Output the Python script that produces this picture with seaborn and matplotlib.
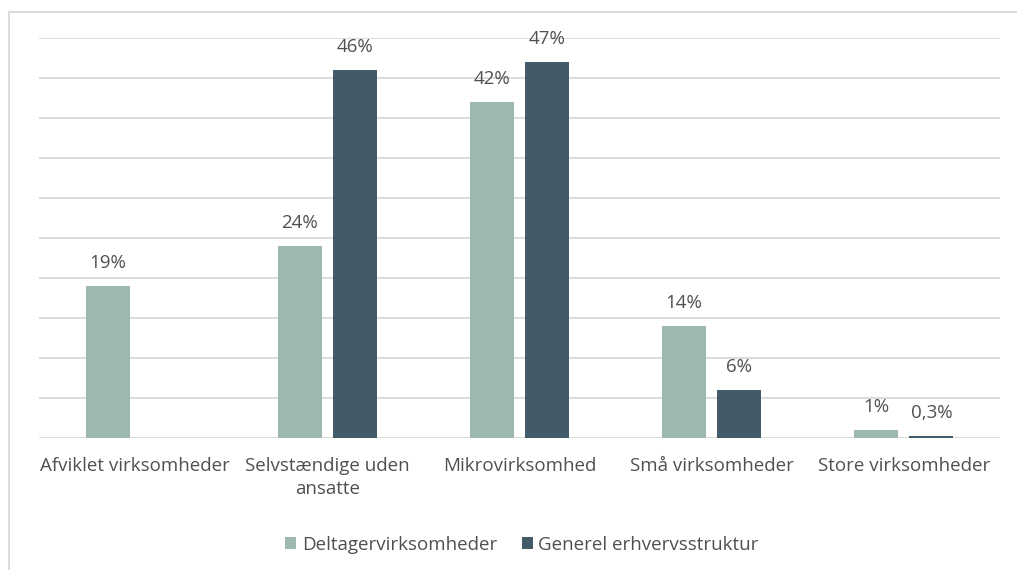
import numpy as np
import pandas as pd
import matplotlib
matplotlib.use("Agg")
import matplotlib.pyplot as plt
import seaborn as sns
from matplotlib.patches import Rectangle

categories = ["Afviklet virksomheder", "Selvstændige uden\nansatte", "Mikrovirksomhed",
              "Små virksomheder", "Store virksomheder"]
series_names = ["Deltagervirksomheder", "Generel erhvervsstruktur"]
deltager = [19, 24, 42, 14, 1]
generel = [np.nan, 46, 47, 6, 0.3]
deltager_labels = ["19%", "24%", "42%", "14%", "1%"]
generel_labels = ["", "46%", "47%", "6%", "0,3%"]

colors = ["#9DB8AF", "#435A69"]
text_color = "#505050"

sns.set_theme(style="white")
plt.rcParams['font.family'] = ['Open Sans', 'DejaVu Sans']

df = pd.DataFrame({
    "Kategori": categories * 2,
    "Serie": [series_names[0]] * 5 + [series_names[1]] * 5,
    "Værdi": deltager + generel,
})

fig = plt.figure(figsize=(10.17, 5.70), dpi=100)
ax = fig.add_axes([39/1017, 1 - 438/570, (1000-39)/1017, 400/570])

sns.barplot(data=df, x="Kategori", y="Værdi", hue="Serie", palette=colors,
            width=0.572, gap=0.2, ax=ax, saturation=1, legend=True, errorbar=None,
            linewidth=0, edgecolor="none")

fs = 13.5
ax.set_ylim(0, 50)
ax.set_yticks(np.arange(0, 51, 5))
ax.set_yticklabels([])
ax.tick_params(axis="y", length=0)
ax.tick_params(axis="x", length=0, pad=14, labelsize=fs, labelcolor=text_color)
for t in ax.get_xticklabels():
    t.set_linespacing(1.3)
ax.yaxis.grid(True, color="#D9D9D9", linewidth=1.3)
ax.set_axisbelow(True)
for s in ax.spines.values():
    s.set_visible(False)
ax.set_xlabel("")
ax.set_ylabel("")
ax.set_xlim(-0.5, 4.5)

labels_all = [deltager_labels, generel_labels]
values_all = [deltager, generel]
for cont, labs, vals in zip(ax.containers, labels_all, values_all):
    valid = [l for l, v in zip(labs, vals) if not np.isnan(v)]
    bars = [b for b in cont if not np.isnan(b.get_height())]
    for bar, lab in zip(bars, valid):
        ax.annotate(lab, (bar.get_x() + bar.get_width()/2, bar.get_height()),
                    xytext=(0, 10), textcoords="offset points",
                    ha="center", va="bottom", fontsize=fs, color=text_color)

handles, labs = ax.get_legend_handles_labels()
ax.legend(handles, labs, loc="center", bbox_to_anchor=(522/1017, 1 - 545/570),
          bbox_transform=fig.transFigure, ncol=2, frameon=False,
          fontsize=fs, labelcolor=text_color, handlelength=0.6, handleheight=0.6,
          handletextpad=0.3, columnspacing=1.3)

fig.patches.append(Rectangle((8.5/1017, -0.1), 1.2, 1 - 12.5/570 + 0.1,
                             transform=fig.transFigure, fill=False,
                             edgecolor="#D9D9D9", linewidth=1.3, zorder=0))

fig.savefig("out.png", dpi=100)
